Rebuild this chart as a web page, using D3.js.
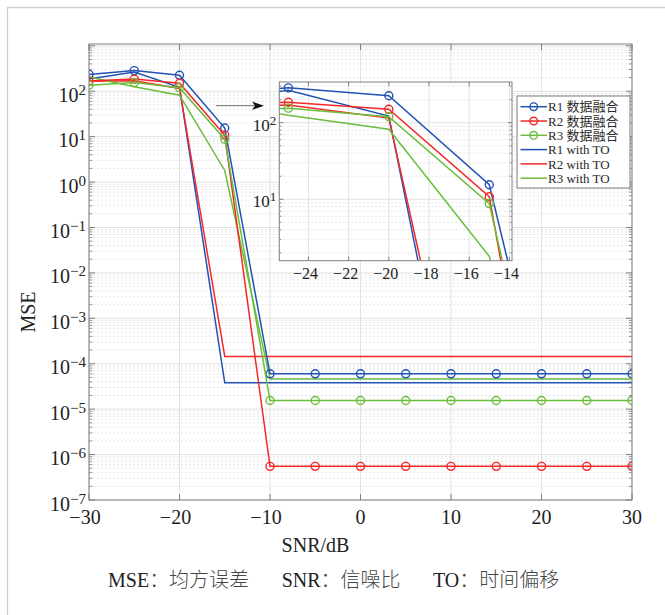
<!DOCTYPE html>
<html><head><meta charset="utf-8">
<script src="https://cdn.jsdelivr.net/npm/d3@7"></script>
<style>body{margin:0;background:#fff}</style></head>
<body><svg id="c" width="665" height="615"></svg>
<script>
// ---------- data ----------
const snr = [-30,-25,-20,-15,-10,-5,0,5,10,15,20,25,30];
const r1Fusion = [235,285,225,15.5,6.0e-5,6.0e-5,6.0e-5,6.0e-5,6.0e-5,6.0e-5,6.0e-5,6.0e-5,6.0e-5];
const r2Fusion = [168,185,150,10.8,5.5e-7,5.5e-7,5.5e-7,5.5e-7,5.5e-7,5.5e-7,5.5e-7,5.5e-7,5.5e-7];
const r3Fusion = [136,155,120,8.8,1.55e-5,1.55e-5,1.55e-5,1.55e-5,1.55e-5,1.55e-5,1.55e-5,1.55e-5,1.55e-5];
const r1TO = [185,265,122,3.8e-5,3.8e-5,3.8e-5,3.8e-5,3.8e-5,3.8e-5,3.8e-5,3.8e-5,3.8e-5,3.8e-5];
const r2TO = [165,170,115,1.45e-4,1.45e-4,1.45e-4,1.45e-4,1.45e-4,1.45e-4,1.45e-4,1.45e-4,1.45e-4,1.45e-4];
const r3TO = [205,125,82,1.8,4.6e-5,4.6e-5,4.6e-5,4.6e-5,4.6e-5,4.6e-5,4.6e-5,4.6e-5,4.6e-5];
const seriesNames = ["R1 数据融合","R2 数据融合","R3 数据融合","R1 with TO","R2 with TO","R3 with TO"];
const xTicksMain = [-30,-20,-10,0,10,20,30];
const yExpMain = [-7,-6,-5,-4,-3,-2,-1,0,1,2];
const xTicksInset = [-24,-22,-20,-18,-16,-14];
const yExpInset = [1,2];
const xLabel = "SNR/dB", yLabel = "MSE";
const captionAbbr = ["MSE","SNR","TO"];
const captionText = ["：均方误差","：信噪比","：时间偏移"];

const colors = ["#2152b4","#f52828","#6bbd3c"];
const series = [
  {v:r1Fusion,c:colors[0],m:true},{v:r2Fusion,c:colors[1],m:true},{v:r3Fusion,c:colors[2],m:true},
  {v:r1TO,c:colors[0],m:false},{v:r2TO,c:colors[1],m:false},{v:r3TO,c:colors[2],m:false}
];
const serif = "'Liberation Serif','Times New Roman',serif";
const mixed = "'Liberation Serif','Noto Sans CJK SC',serif";
const cjk = "'Noto Sans CJK SC','Noto Sans',sans-serif";
const svg = d3.select("#c");
const defs = svg.append("defs");

// outer frame
svg.append("path").attr("d","M7.5,615V7.5H665").attr("fill","none").attr("stroke","#cfcfcf").attr("stroke-width",1.3);

const minus = s => String(s).replace("-","\u2212");

function panel(o){
  const x = d3.scaleLinear().domain(o.xd).range([o.l,o.r]);
  const y = d3.scaleLog().domain(o.yd).range([o.b,o.t]);
  const g = svg.append("g");
  g.append("rect").attr("x",o.l).attr("y",o.t).attr("width",o.r-o.l).attr("height",o.b-o.t).attr("fill","#fff");
  const e0 = Math.floor(Math.log10(o.yd[0])), e1 = Math.ceil(Math.log10(o.yd[1]));
  const minors=[], majors=[];
  for(let e=e0;e<=e1;e++){ for(let k=1;k<10;k++){ const v=k*Math.pow(10,e); if(v>=o.yd[0]*0.999&&v<=o.yd[1]*1.001){ (k===1?majors:minors).push(v);} } }
  g.selectAll(".mg").data(minors).enter().append("line")
    .attr("x1",o.l).attr("x2",o.r).attr("y1",d=>y(d)).attr("y2",d=>y(d))
    .attr("stroke","#dedede").attr("stroke-width",0.8).attr("stroke-dasharray","2,2");
  g.selectAll(".Mg").data(majors).enter().append("line")
    .attr("x1",o.l).attr("x2",o.r).attr("y1",d=>y(d)).attr("y2",d=>y(d))
    .attr("stroke","#e2e2e2").attr("stroke-width",1);
  g.selectAll(".xg").data(o.xt).enter().append("line")
    .attr("x1",d=>x(d)).attr("x2",d=>x(d)).attr("y1",o.t).attr("y2",o.b)
    .attr("stroke","#e2e2e2").attr("stroke-width",1);
  const id = "clip"+o.id;
  defs.append("clipPath").attr("id",id).append("rect").attr("x",o.l).attr("y",o.t).attr("width",o.r-o.l).attr("height",o.b-o.t);
  const pg = g.append("g").attr("clip-path",`url(#${id})`);
  const line = d3.line().x((d,i)=>x(snr[i])).y(d=>y(d));
  [3,4,5,0,1,2].forEach(si=>{
    const s=series[si];
    pg.append("path").attr("d",line(s.v)).attr("fill","none").attr("stroke",s.c).attr("stroke-width",1.5);
    if(s.m){
      pg.selectAll(null).data(s.v).enter().append("circle")
        .attr("cx",(d,i)=>x(snr[i])).attr("cy",d=>y(d)).attr("r",o.mr)
        .attr("fill","none").attr("stroke",s.c).attr("stroke-width",1.4);
    }
  });
  g.append("rect").attr("x",o.l).attr("y",o.t).attr("width",o.r-o.l).attr("height",o.b-o.t)
    .attr("fill","none").attr("stroke","#808080").attr("stroke-width",1);
  const tk = o.tk, tm = o.tk*0.55;
  o.xt.forEach(v=>{
    g.append("line").attr("x1",x(v)).attr("x2",x(v)).attr("y1",o.b).attr("y2",o.b-tk).attr("stroke","#808080");
    g.append("line").attr("x1",x(v)).attr("x2",x(v)).attr("y1",o.t).attr("y2",o.t+tk).attr("stroke","#808080");
    g.append("text").attr("x",x(v)-(v<0?o.neg:0)).attr("y",o.b+o.xlOff).attr("text-anchor","middle")
      .attr("font-family",serif).attr("font-size",o.fx).attr("fill","#222").text(minus(v));
  });
  majors.forEach(v=>{
    g.append("line").attr("x1",o.l).attr("x2",o.l+tk).attr("y1",y(v)).attr("y2",y(v)).attr("stroke","#808080");
    g.append("line").attr("x1",o.r).attr("x2",o.r-tk).attr("y1",y(v)).attr("y2",y(v)).attr("stroke","#808080");
  });
  minors.forEach(v=>{
    g.append("line").attr("x1",o.l).attr("x2",o.l+tm).attr("y1",y(v)).attr("y2",y(v)).attr("stroke","#808080").attr("stroke-width",0.8);
    g.append("line").attr("x1",o.r).attr("x2",o.r-tm).attr("y1",y(v)).attr("y2",y(v)).attr("stroke","#808080").attr("stroke-width",0.8);
  });
  o.ye.forEach(e=>{
    const t = g.append("text").attr("x",o.l-o.ylGap).attr("y",y(Math.pow(10,e))+o.ylOff).attr("text-anchor","end")
      .attr("font-family",serif).attr("fill","#222");
    t.append("tspan").attr("font-size",o.fy).text("10");
    t.append("tspan").attr("font-size",o.fs).attr("dy",-o.sup).text(minus(e));
  });
  return {x,y,g};
}

panel({id:"m",l:89,r:632,t:44,b:500,xd:[-30,30],yd:[1e-7,Math.pow(10,3.04)],xt:xTicksMain,ye:yExpMain,
  mr:4,tk:6,fx:20,fy:20,fs:15,sup:7,neg:4,xlOff:24,ylGap:3,ylOff:10.5});

svg.append("text").attr("transform","translate(35,312) rotate(-90)").attr("text-anchor","middle")
  .attr("font-family",serif).attr("font-size",20).attr("fill","#222").text(yLabel);
svg.append("text").attr("x",315.5).attr("y",552).attr("text-anchor","middle")
  .attr("font-family",serif).attr("font-size",20).attr("fill","#222").text(xLabel);

// arrow
svg.append("line").attr("x1",216).attr("x2",256).attr("y1",105.7).attr("y2",105.7).attr("stroke","#8a8a8a").attr("stroke-width",1.2);
svg.append("path").attr("d","M264,105.7L252,101.5L255,105.7L252,109.9Z").attr("fill","#111");

panel({id:"i",l:279.3,r:512,t:82,b:260.7,xd:[-25.45,-13.87],yd:[1.58,340],xt:xTicksInset,ye:yExpInset,
  mr:4,tk:4,fx:16,fy:17,fs:13,sup:6,neg:3,xlOff:18,ylGap:3,ylOff:8});

// legend
const lg = svg.append("g");
lg.append("rect").attr("x",517).attr("y",96).attr("width",113).attr("height",92).attr("fill","#fff").attr("stroke","#7a7a7a").attr("stroke-width",1);
seriesNames.forEach((n,i)=>{
  const yy = 106.7 + i*14.3, s = series[i];
  lg.append("line").attr("x1",520.5).attr("x2",547).attr("y1",yy).attr("y2",yy).attr("stroke",s.c).attr("stroke-width",1.5);
  if(s.m) lg.append("circle").attr("cx",533.7).attr("cy",yy).attr("r",3.8).attr("fill","none").attr("stroke",s.c).attr("stroke-width",1.4);
  lg.append("text").attr("x",548).attr("y",yy+4.6).attr("font-family",mixed).attr("font-size",13).attr("fill","#2a2a2a").text(n);
});

// caption
[108,281.7,433].forEach((xx,i)=>{
  const t = svg.append("text").attr("x",xx).attr("y",587).attr("font-size",20);
  t.append("tspan").attr("font-family",serif).attr("fill","#222").text(captionAbbr[i]);
  t.append("tspan").attr("font-family",cjk).attr("font-weight",300).attr("fill","#444").text(captionText[i]);
});
</script></body></html>
